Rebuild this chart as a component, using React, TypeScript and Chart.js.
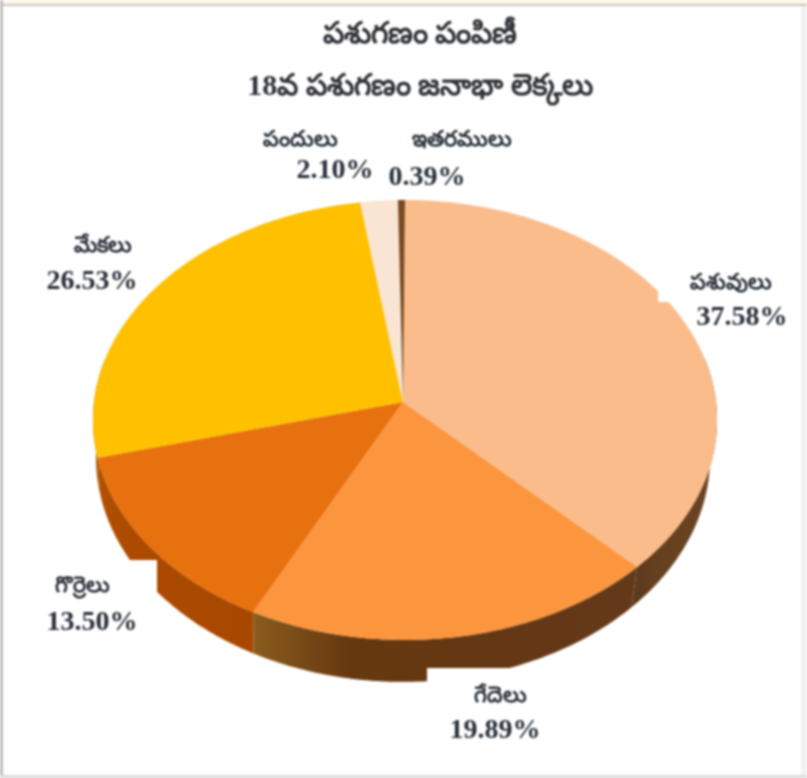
import React, { useEffect, useRef } from "react";
import { Chart, registerables } from "chart.js";

Chart.register(...registerables);

const titleLines = ["పశుగణం పంపిణీ", "18వ పశుగణం జనాభా లెక్కలు"];
const categories = ["పశువులు", "గేదెలు", "గొర్రెలు", "మేకలు", "పందులు", "ఇతరములు"];
const shares = [37.58, 19.89, 13.5, 26.53, 2.1, 0.39];
const faceColors = ["#FBBC8B", "#FB963E", "#E8710F", "#FFC000", "#F9E5D3", "#7A4A20"];
const wallRight = ["#6A4322", "#64391A", "#A84800", "#B05000", "#C9B6A4", "#5A3414"];
const wallMid = ["#65401F", "#66380F", "#AC4A00", "#B05000", "#BDAA98", "#52300F"];
const wallLeft = ["#5E3A1C", "#8A5C1E", "#B05000", "#B05000", "#B09E8C", "#4A2A10"];

const TEXT = "#282E38";
const SERIF = '"Liberation Serif", "Noto Sans", serif';
// label anchors: [name x, name y, value x, value y], same order as categories
const labelAnchors = [
  [731, 283, 742, 318],
  [500, 696, 495, 731],
  [82, 586, 92, 623],
  [103, 246, 92, 282],
  [300, 140, 335, 171],
  [462, 140, 427, 178],
];
// perspective discs: centre, half-width, half-depth, perspective strength
const topDisc = { x: 405, y: 402, r: 311, s: 218.5, k: 0.0818 };
const lowDisc = { x: 403, y: 439, r: 306, s: 223, k: 0.0818 };

const pt = (d: typeof topDisc, a: number) => {
  const w = 1 / (1 - d.k * Math.sin(a));
  return [d.x + d.r * Math.cos(a) * w, d.y + d.s * Math.sin(a) * w];
};

const pie3d = {
  id: "pie3d",
  beforeDraw(chart: any) {
    const c = chart.ctx as CanvasRenderingContext2D;
    c.save();
    c.fillStyle = "#FFFFFF";
    c.fillRect(0, 0, 807, 778);
    c.fillStyle = "#FBF8E6";
    c.fillRect(0, 0, 807, 4);
    c.fillStyle = "#C9C9C2";
    c.fillRect(0, 4, 807, 2);
    c.fillStyle = "#BDBDBD";
    c.fillRect(0, 0, 3, 778);
    c.fillStyle = "#F1F1F1";
    c.fillRect(801, 6, 6, 772);
    c.fillStyle = "#DDDDDD";
    c.fillRect(0, 775, 807, 3);
    c.restore();
  },
  beforeDatasetsDraw(chart: any) {
    const c = chart.ctx as CanvasRenderingContext2D;
    const arcs = chart.getDatasetMeta(0).data as any[];
    const n = 90;
    c.save();
    // side walls (front half only), from the arc angles the library computed
    arcs.forEach((arc, i) => {
      const props = arc.getProps(["startAngle", "endAngle"]);
      const s = Math.max(props.startAngle, -0.2);
      const e = Math.min(props.endAngle, Math.PI + 0.2);
      if (s >= e) return;
      const g = c.createLinearGradient(pt(topDisc, s)[0], 0, pt(topDisc, e)[0], 0);
      g.addColorStop(0, wallRight[i]);
      g.addColorStop(0.75, wallMid[i]);
      g.addColorStop(1, wallLeft[i]);
      c.fillStyle = g;
      c.beginPath();
      for (let k = 0; k <= n; k++) {
        const [x, y] = pt(lowDisc, s + ((e - s) * k) / n);
        k ? c.lineTo(x, y) : c.moveTo(x, y);
      }
      for (let k = n; k >= 0; k--) {
        const [x, y] = pt(topDisc, s + ((e - s) * k) / n);
        c.lineTo(x, y);
      }
      c.closePath();
      c.fill();
    });
    // top faces
    arcs.forEach((arc, i) => {
      const { startAngle: s, endAngle: e } = arc.getProps(["startAngle", "endAngle"]);
      c.fillStyle = faceColors[i];
      c.beginPath();
      c.moveTo(topDisc.x - 2, topDisc.y);
      for (let k = 0; k <= n; k++) {
        const [x, y] = pt(topDisc, s + ((e - s) * k) / n);
        c.lineTo(x, y);
      }
      c.closePath();
      c.fill();
    });
    // white label boxes that cut into the pie
    c.fillStyle = "#FFFFFF";
    c.fillRect(658, 250, 130, 52);
    c.fillRect(20, 560, 137, 90);
    c.fillRect(427, 668, 130, 80);
    c.restore();
    return false;
  },
  afterDraw(chart: any) {
    const c = chart.ctx as CanvasRenderingContext2D;
    c.save();
    c.textAlign = "center";
    c.textBaseline = "middle";
    c.fillStyle = "#2E3135";
    c.font = `bold 30px ${SERIF}`;
    c.fillText(titleLines[0], 420, 35);
    c.fillText(titleLines[1], 420, 87);
    categories.forEach((name, i) => {
      const [nx, ny, vx, vy] = labelAnchors[i];
      c.fillStyle = TEXT;
      c.font = `bold 22px ${SERIF}`;
      c.fillText(name, nx, ny);
      c.font = `bold 28px ${SERIF}`;
      c.fillText(`${shares[i].toFixed(2)}%`, vx, vy);
    });
    c.restore();
  },
};

export default function App() {
  const ref = useRef<HTMLCanvasElement | null>(null);
  useEffect(() => {
    document.body.style.margin = "0";
    const chart = new Chart(ref.current as HTMLCanvasElement, {
      type: "pie",
      data: {
        labels: categories,
        datasets: [{ data: shares, backgroundColor: faceColors, borderWidth: 0 }],
      },
      options: {
        responsive: false,
        animation: false,
        plugins: { legend: { display: false }, tooltip: { enabled: false }, title: { display: false } },
      },
      plugins: [pie3d],
    } as any);
    return () => chart.destroy();
  }, []);
  return (
    <div style={{ width: 807, height: 778 }}>
      <canvas ref={ref} width={807} height={778} style={{ display: "block", width: 807, height: 778, filter: "blur(0.8px)" }} />
    </div>
  );
}
